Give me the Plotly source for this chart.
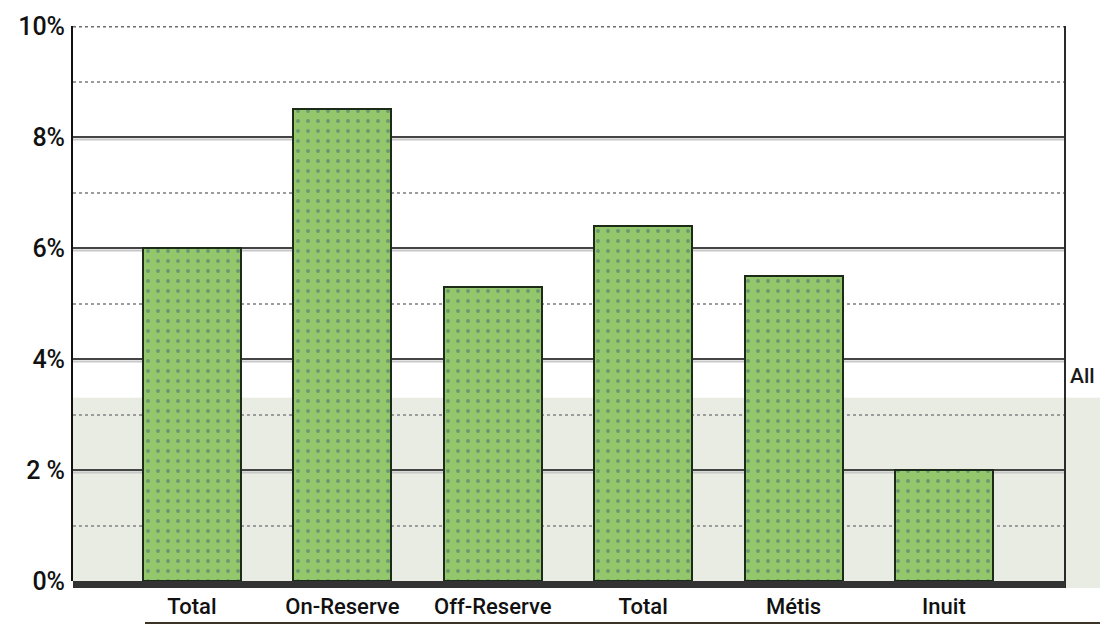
import plotly.graph_objects as go

# Rates by group (percent)
categories = ["Total", "On-Reserve", "Off-Reserve", "Total", "Métis", "Inuit"]
rates = [6.0, 8.5, 5.3, 6.4, 5.5, 2.0]
all_rate = 3.3          # overall rate, shown as a shaded band
y_ticks = [0, 2, 4, 6, 8, 10]
y_tick_labels = ["0%", "2 %", "4%", "6%", "8%", "10%"]

FONT = "Roboto, Liberation Sans, sans-serif"

W, H = 1100, 625
L, R, T, B = 73, 35, 26, 44
plot_w = W - L - R
plot_h = H - T - B

def px_x(p):
    return (p - L) / plot_w

def px_y(p):
    return (H - B - p) / plot_h

x_idx = list(range(len(categories)))

fig = go.Figure()
fig.add_trace(go.Bar(
    x=x_idx,
    y=rates,
    width=0.652,
    marker=dict(
        color="#94c76c",
        line=dict(color="#1c2a18", width=2),
        pattern=dict(shape=".", fgcolor="#6a9870", bgcolor="#94c76c",
                     size=10, solidity=0.12, fillmode="replace"),
    ),
    hovertemplate="%{y:.1f}%<extra></extra>",
))

shapes = []
# shaded band for the overall rate, running past the right frame
shapes.append(dict(type="rect", xref="paper", yref="y", layer="below",
                   x0=0, x1=px_x(W), y0=0, y1=all_rate,
                   fillcolor="#e8ece2", line=dict(width=0)))
shapes.append(dict(type="rect", xref="paper", yref="paper", layer="below",
                   x0=1, x1=px_x(W), y0=px_y(588), y1=0,
                   fillcolor="#e8ece2", line=dict(width=0)))
# light shadow under each major grid line
for v in [2, 4, 6, 8]:
    shapes.append(dict(type="line", xref="paper", yref="y", layer="below",
                       x0=0, x1=1, y0=v - 0.045, y1=v - 0.045,
                       line=dict(color="#c8c8c8", width=2)))
# top frame line
shapes.append(dict(type="line", xref="paper", yref="y", layer="above",
                   x0=0, x1=1, y0=10, y1=10,
                   line=dict(color="#6e6e6e", width=3, dash="dot")))
# right frame line
shapes.append(dict(type="line", xref="paper", yref="paper", layer="above",
                   x0=1, x1=1, y0=px_y(588), y1=1,
                   line=dict(color="#2a2a2a", width=2)))
# heavy baseline
shapes.append(dict(type="rect", xref="paper", yref="paper", layer="above",
                   x0=0, x1=1, y0=px_y(588), y1=0,
                   fillcolor="#333333", line=dict(width=0)))
# underline beneath category labels
shapes.append(dict(type="line", xref="paper", yref="paper", layer="above",
                   x0=px_x(145), x1=px_x(W), y0=px_y(623), y1=px_y(623),
                   line=dict(color="#3a3326", width=2)))

fig.update_layout(
    width=W, height=H,
    margin=dict(l=L, r=R, t=T, b=B, pad=0, autoexpand=False),
    paper_bgcolor="white",
    plot_bgcolor="white",
    showlegend=False,
    bargap=0,
    shapes=shapes,
    font=dict(family=FONT, color="#111111"),
    annotations=[dict(text="All", xref="paper", yref="y",
                      x=px_x(1068), y=3.7, xanchor="left", yanchor="middle",
                      showarrow=False,
                      font=dict(family=FONT, size=21, color="#1a1a1a", weight=500))],
)

fig.update_xaxes(
    range=[-0.791, 5.805],
    tickmode="array", tickvals=x_idx, ticktext=categories,
    tickfont=dict(family=FONT, size=22, color="#111111", weight=500),
    ticks="", ticklabelstandoff=10,
    showgrid=False, zeroline=False, showline=False,
    automargin=False,
    fixedrange=True,
)
fig.update_yaxes(
    range=[0, 10],
    tickmode="array", tickvals=y_ticks, ticktext=y_tick_labels,
    tickfont=dict(family=FONT, size=25, color="#111111", weight=500),
    ticks="", ticklabelstandoff=1,
    showgrid=True, gridcolor="#444444", gridwidth=2,
    minor=dict(dtick=1, showgrid=True, gridcolor="#9c9c9c", gridwidth=2, griddash="dot"),
    zeroline=False,
    showline=True, linecolor="#111111", linewidth=2,
    automargin=False,
    fixedrange=True,
)

fig.write_html("out.html")
